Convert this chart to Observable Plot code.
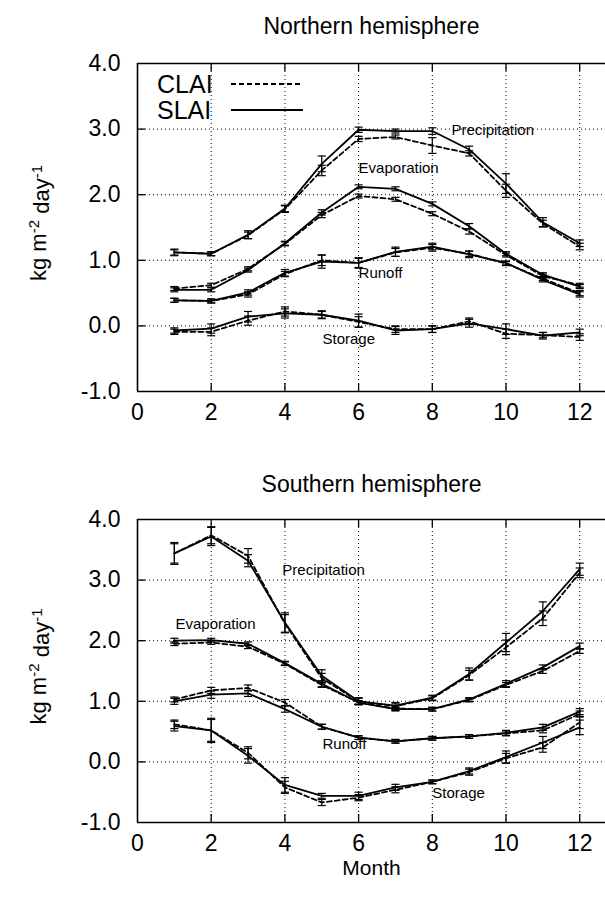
<!DOCTYPE html>
<html>
<head>
<meta charset="utf-8">
<script src="https://cdn.jsdelivr.net/npm/d3@7"></script>
<script src="https://cdn.jsdelivr.net/npm/@observablehq/plot@0.6"></script>
<style>
  html, body { margin: 0; padding: 0; background: white; }
  #chart svg { display: block; }
</style>
</head>
<body>
<div id="chart"></div>
<script>
// ---------- data ----------
const months = [1,2,3,4,5,6,7,8,9,10,11,12];
const runs = ["CLAI", "SLAI"];
const variables = ["Precipitation", "Evaporation", "Runoff", "Storage"];
const xTicks = [0,2,4,6,8,10,12];
const yTicks = [-1,0,1,2,3,4];

// Northern hemisphere
const nPrecipS = [1.12,1.10,1.39,1.79,2.47,2.99,2.97,2.97,2.69,2.17,1.58,1.26];
const nPrecipC = [1.12,1.10,1.38,1.78,2.37,2.85,2.88,2.75,2.63,2.06,1.56,1.21];
const nEvapS   = [0.55,0.55,0.85,1.26,1.73,2.12,2.09,1.86,1.52,1.10,0.78,0.60];
const nEvapC   = [0.57,0.62,0.87,1.25,1.69,1.98,1.93,1.71,1.44,1.08,0.76,0.62];
const nRunoffS = [0.39,0.38,0.51,0.81,0.98,0.96,1.13,1.21,1.09,0.96,0.70,0.48];
const nRunoffC = [0.39,0.38,0.48,0.79,1.00,0.96,1.12,1.19,1.10,0.95,0.72,0.50];
const nStorS   = [-0.07,-0.04,0.14,0.19,0.17,0.08,-0.07,-0.05,0.04,-0.05,-0.15,-0.10];
const nStorC   = [-0.09,-0.09,0.08,0.22,0.17,0.06,-0.05,-0.05,0.07,-0.12,-0.14,-0.17];
// error half-widths
const nPrecipSe = [0.05,0.03,0.06,0.05,0.12,0.04,0.03,0.05,0.05,0.15,0.07,0.05];
const nPrecipCe = [0.04,0.03,0.05,0.05,0.08,0.04,0.03,0.12,0.04,0.10,0.05,0.05];
const nEvapSe   = [0.03,0.03,0.03,0.03,0.04,0.03,0.03,0.03,0.04,0.03,0.03,0.03];
const nEvapCe   = [0.03,0.03,0.03,0.03,0.04,0.03,0.03,0.03,0.04,0.03,0.03,0.03];
const nRunoffSe = [0.03,0.03,0.04,0.05,0.10,0.08,0.07,0.05,0.05,0.03,0.03,0.04];
const nRunoffCe = [0.03,0.03,0.04,0.04,0.08,0.07,0.06,0.05,0.04,0.03,0.03,0.04];
const nStorSe   = [0.04,0.07,0.08,0.07,0.06,0.10,0.06,0.05,0.06,0.08,0.05,0.05];
const nStorCe   = [0.04,0.06,0.07,0.07,0.05,0.08,0.05,0.05,0.05,0.07,0.04,0.05];

// Southern hemisphere
const sPrecipS = [3.44,3.72,3.32,2.30,1.42,1.00,0.93,1.06,1.45,1.97,2.49,3.18];
const sPrecipC = [3.44,3.74,3.40,2.28,1.38,1.00,0.92,1.05,1.43,1.89,2.37,3.12];
const sEvapS   = [2.00,2.01,1.95,1.63,1.29,0.98,0.87,0.87,1.03,1.29,1.56,1.91];
const sEvapC   = [1.95,1.97,1.90,1.62,1.27,0.98,0.88,0.87,1.02,1.27,1.50,1.83];
const sRunoffS = [1.00,1.11,1.13,0.87,0.58,0.40,0.34,0.39,0.42,0.48,0.57,0.83];
const sRunoffC = [1.03,1.18,1.22,0.98,0.58,0.40,0.34,0.39,0.42,0.47,0.52,0.79];
const sStorS   = [0.59,0.52,0.10,-0.38,-0.56,-0.56,-0.42,-0.33,-0.15,0.08,0.32,0.57];
const sStorC   = [0.62,0.52,0.15,-0.42,-0.67,-0.59,-0.46,-0.33,-0.17,0.06,0.24,0.65];
const sPrecipSe = [0.18,0.15,0.10,0.16,0.10,0.06,0.05,0.04,0.10,0.15,0.15,0.10];
const sPrecipCe = [0.16,0.14,0.12,0.15,0.08,0.05,0.05,0.04,0.08,0.12,0.12,0.08];
const sEvapSe   = [0.04,0.03,0.03,0.03,0.05,0.03,0.03,0.03,0.03,0.05,0.04,0.05];
const sEvapCe   = [0.03,0.03,0.03,0.03,0.04,0.03,0.03,0.03,0.03,0.04,0.04,0.04];
const sRunoffSe = [0.05,0.06,0.05,0.05,0.04,0.03,0.03,0.03,0.03,0.04,0.05,0.05];
const sRunoffCe = [0.04,0.05,0.05,0.05,0.04,0.03,0.03,0.03,0.03,0.04,0.04,0.05];
const sStorSe   = [0.08,0.20,0.12,0.12,0.04,0.06,0.05,0.03,0.05,0.10,0.10,0.12];
const sStorCe   = [0.07,0.18,0.10,0.10,0.05,0.05,0.05,0.03,0.05,0.08,0.08,0.10];

// label anchors (data coords)
const nLabels = [
  {text: "Precipitation", x: 8.52, y: 2.99},
  {text: "Evaporation",   x: 6.0,  y: 2.40},
  {text: "Runoff",        x: 6.0,  y: 0.81},
  {text: "Storage",       x: 5.02, y: -0.20}
];
const sLabels = [
  {text: "Precipitation", x: 3.93, y: 3.17},
  {text: "Evaporation",   x: 1.03, y: 2.28},
  {text: "Runoff",        x: 5.02, y: 0.30},
  {text: "Storage",       x: 8.0,  y: -0.51}
];

// ---------- tidy tables ----------
function rowsFor(series) {
  const out = [];
  for (const s of series) {
    s.values.forEach((v, i) => out.push({variable: s.variable, run: s.run, month: months[i], value: v, err: s.err[i]}));
  }
  return out;
}
const north = rowsFor([
  {variable: "Precipitation", run: "SLAI", values: nPrecipS, err: nPrecipSe},
  {variable: "Precipitation", run: "CLAI", values: nPrecipC, err: nPrecipCe},
  {variable: "Evaporation", run: "SLAI", values: nEvapS, err: nEvapSe},
  {variable: "Evaporation", run: "CLAI", values: nEvapC, err: nEvapCe},
  {variable: "Runoff", run: "SLAI", values: nRunoffS, err: nRunoffSe},
  {variable: "Runoff", run: "CLAI", values: nRunoffC, err: nRunoffCe},
  {variable: "Storage", run: "SLAI", values: nStorS, err: nStorSe},
  {variable: "Storage", run: "CLAI", values: nStorC, err: nStorCe}
]);
const south = rowsFor([
  {variable: "Precipitation", run: "SLAI", values: sPrecipS, err: sPrecipSe},
  {variable: "Precipitation", run: "CLAI", values: sPrecipC, err: sPrecipCe},
  {variable: "Evaporation", run: "SLAI", values: sEvapS, err: sEvapSe},
  {variable: "Evaporation", run: "CLAI", values: sEvapC, err: sEvapCe},
  {variable: "Runoff", run: "SLAI", values: sRunoffS, err: sRunoffSe},
  {variable: "Runoff", run: "CLAI", values: sRunoffC, err: sRunoffCe},
  {variable: "Storage", run: "SLAI", values: sStorS, err: sStorSe},
  {variable: "Storage", run: "CLAI", values: sStorC, err: sStorCe}
]);

const FONT = "'Liberation Sans', Arial, Helvetica, sans-serif";
const DASH = "5,3";
const W = 605, ML = 137;
const LW = 1.8;

function yLabelMark(index, scales, values, dims) {
  const cy = (dims.marginTop + dims.height - dims.marginBottom) / 2 - 4;
  const t = d3.create("svg:text")
    .attr("transform", `translate(46,${cy}) rotate(-90)`)
    .attr("text-anchor", "middle")
    .attr("font-size", 22)
    .attr("fill", "black");
  t.append("tspan").text("kg m");
  t.append("tspan").attr("dy", "-0.45em").attr("font-size", 15).text("-2");
  t.append("tspan").attr("dy", "0.45em").text(" day");
  t.append("tspan").attr("dy", "-0.45em").attr("font-size", 15).text("-1");
  return t.node();
}

function legendMark(index, scales, values, dims) {
  const g = d3.create("svg:g");
  const x0 = dims.marginLeft, y0 = dims.marginTop;
  runs.forEach((r, i) => {
    const cy = y0 + 21 + i * 26;
    g.append("text").attr("x", x0 + 20).attr("y", cy).attr("dy", "0.36em")
      .attr("text-anchor", "start")
      .attr("font-size", 25).attr("fill", "black").text(r);
    g.append("line").attr("x1", x0 + 94).attr("x2", x0 + 166).attr("y1", cy).attr("y2", cy)
      .attr("stroke", "black").attr("stroke-width", LW)
      .attr("stroke-dasharray", r === "CLAI" ? DASH : null);
  });
  return g.node();
}

function panel({data, labels, title, titleY, height, marginTop, marginBottom, legend, xlabel}) {
  const ph = height - marginTop - marginBottom;
  const pw = W - ML;
  return Plot.plot({
    width: W, height, marginLeft: ML, marginRight: 0, marginTop, marginBottom,
    x: {domain: [0, 12.7], label: null},
    y: {domain: [-1, 4], label: null},
    style: {fontFamily: FONT, fontSize: "23px", background: "white", color: "black", overflow: "visible"},
    marks: [
      // dotted grid
      Plot.ruleX(xTicks.filter(d => d > 0), {stroke: "black", strokeWidth: 1, strokeDasharray: "1,3"}),
      Plot.ruleY(yTicks.filter(d => d > -1 && d < 4), {stroke: "black", strokeWidth: 1, strokeDasharray: "1,3"}),
      // inward ticks
      Plot.ruleX(xTicks.filter(d => d > 0), {stroke: "black", strokeWidth: 1.3, insetTop: ph - 8}),
      Plot.ruleX(xTicks.filter(d => d > 0), {stroke: "black", strokeWidth: 1.3, insetBottom: ph - 8}),
      Plot.ruleY(yTicks.filter(d => d > -1 && d < 4), {stroke: "black", strokeWidth: 1.3, insetRight: pw - 8}),
      // frame
      Plot.ruleX([0], {stroke: "black", strokeWidth: 1.6}),
      Plot.ruleY([-1, 4], {stroke: "black", strokeWidth: 1.6}),
      // axes labels
      Plot.axisX({ticks: xTicks, tickSize: 0, tickPadding: 12, tickFormat: d => String(d), fontSize: 23}),
      Plot.axisY({ticks: yTicks, tickSize: 0, tickPadding: 17, tickFormat: d => d.toFixed(1), fontSize: 23}),
      // error bars
      Plot.ruleX(data, {x: "month", y1: d => d.value - d.err, y2: d => d.value + d.err, stroke: "black", strokeWidth: 1.2}),
      Plot.link(data, {x1: d => d.month - 0.11, x2: d => d.month + 0.11, y1: d => d.value - d.err, y2: d => d.value - d.err, stroke: "black", strokeWidth: 1.2}),
      Plot.link(data, {x1: d => d.month - 0.11, x2: d => d.month + 0.11, y1: d => d.value + d.err, y2: d => d.value + d.err, stroke: "black", strokeWidth: 1.2}),
      // lines
      Plot.line(data.filter(d => d.run === "CLAI"), {x: "month", y: "value", z: "variable", stroke: "black", strokeWidth: LW, strokeDasharray: DASH}),
      Plot.line(data.filter(d => d.run === "SLAI"), {x: "month", y: "value", z: "variable", stroke: "black", strokeWidth: LW}),
      // curve labels
      Plot.text(labels, {x: "x", y: "y", text: "text", textAnchor: "start", fontSize: 15, fill: "black"}),
      // title
      Plot.text([title], {frameAnchor: "top", lineAnchor: "middle", dy: -(marginTop - titleY), fontSize: 23, fill: "black"}),
      xlabel ? Plot.text([xlabel], {frameAnchor: "bottom", lineAnchor: "middle", dy: 46, fontSize: 21, fill: "black"}) : null,
      yLabelMark,
      legend ? legendMark : null
    ]
  });
}

const chart = document.getElementById("chart");
chart.append(panel({data: north, labels: nLabels, title: "Northern hemisphere", titleY: 26, height: 440, marginTop: 63, marginBottom: 49, legend: true}));
chart.append(panel({data: south, labels: sLabels, title: "Southern hemisphere", titleY: 44, height: 457, marginTop: 79, marginBottom: 75, legend: false, xlabel: "Month"}));
</script>
</body>
</html>
